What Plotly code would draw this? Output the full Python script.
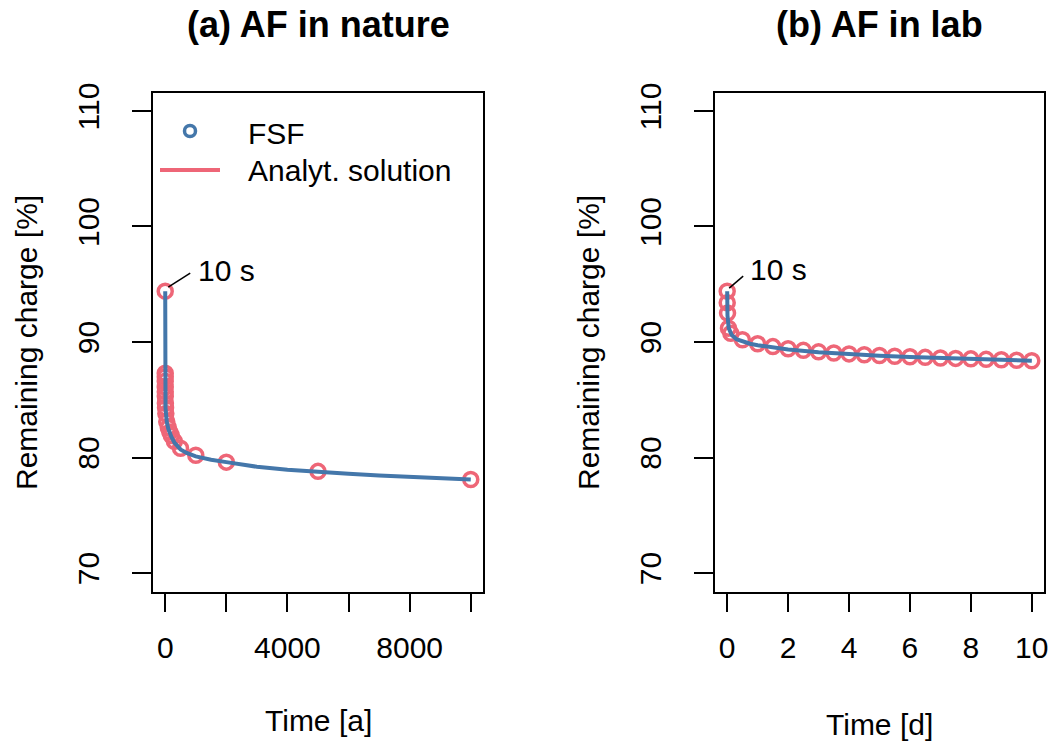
import plotly.graph_objects as go
from plotly.subplots import make_subplots

W, H = 1052, 745
RED = "#EE6677"
BLUE = "#4477AA"
FONT = "Liberation Sans, Arial, sans-serif"

# (a) AF in nature, time in years (first point = 10 s)
t_nat_fsf = [3.2e-7, 0.05, 0.1, 0.2, 0.5, 1, 2, 5, 10, 20, 50, 100, 150, 200, 300,
             500, 1000, 2000, 5000, 10000]
q_nat_fsf = [94.4, 87.3, 87.0, 86.6, 86.1, 85.7, 85.3, 84.7, 84.3, 83.8, 83.1, 82.6,
             82.2, 81.9, 81.4, 80.8, 80.2, 79.6, 78.8, 78.1]
t_nat_ana = [3.2e-7, 0.1, 1, 10, 50, 100, 200, 300, 500, 700, 1000, 1500, 2000, 3000,
             4000, 5000, 6000, 7000, 8000, 9000, 10000]
q_nat_ana = [94.4, 87.0, 85.7, 84.3, 83.1, 82.5, 81.8, 81.3, 80.7, 80.4, 80.1, 79.8,
             79.6, 79.2, 78.95, 78.75, 78.6, 78.45, 78.35, 78.25, 78.1]

# (b) AF in lab, time in days (first point = 10 s)
t_lab_fsf = [1.16e-4, 1.16e-3, 0.0116, 0.042, 0.12, 0.5, 1, 1.5, 2, 2.5, 3, 3.5, 4,
             4.5, 5, 5.5, 6, 6.5, 7, 7.5, 8, 8.5, 9, 9.5, 10]
q_lab_fsf = [94.4, 93.4, 92.5, 91.2, 90.75, 90.2, 89.85, 89.6, 89.42, 89.28, 89.15,
             89.05, 88.97, 88.9, 88.83, 88.77, 88.72, 88.67, 88.62, 88.58, 88.54,
             88.5, 88.46, 88.42, 88.38]
t_lab_ana = [1.16e-4, 0.01, 0.05, 0.15, 0.3, 0.5, 0.75, 1, 1.5, 2, 3, 4, 5, 6, 7, 8,
             9, 10]
q_lab_ana = [94.4, 92.3, 91.2, 90.6, 90.25, 90.05, 89.85, 89.72, 89.5, 89.35, 89.12,
             88.95, 88.82, 88.7, 88.6, 88.52, 88.44, 88.38]

y_ticks = [70, 80, 90, 100, 110]
x_ticks_nat = [0, 2000, 4000, 6000, 8000, 10000]
x_text_nat = ["0", "", "4000", "", "8000", ""]
x_ticks_lab = [0, 2, 4, 6, 8, 10]

fig = make_subplots(rows=1, cols=2, horizontal_spacing=0.1)

panels = [
    (1, t_nat_fsf, q_nat_fsf, t_nat_ana, q_nat_ana),
    (2, t_lab_fsf, q_lab_fsf, t_lab_ana, q_lab_ana),
]
for col, tf, qf, ta, qa in panels:
    fig.add_trace(go.Scatter(
        x=tf, y=qf, mode="markers", showlegend=False, hoverinfo="skip",
        marker=dict(symbol="circle-open", size=14, color=RED,
                    line=dict(width=3.5, color=RED)),
    ), row=1, col=col)
    fig.add_trace(go.Scatter(
        x=ta, y=qa, mode="lines", showlegend=False, hoverinfo="skip",
        line=dict(color=BLUE, width=4),
    ), row=1, col=col)


def px_x(p):
    return p / W


def px_y(p):
    return 1 - p / H


dom1 = [px_x(153), px_x(483)]
dom2 = [px_x(715), px_x(1044)]
ydom = [px_y(591.5), px_y(92.5)]

axis_common = dict(
    showline=True, mirror=True, linecolor="black", linewidth=1.5,
    ticks="outside", ticklen=19, tickwidth=1.5, tickcolor="black",
    showgrid=False, zeroline=False, automargin=False,
    tickfont=dict(size=30, color="black", family=FONT),
)
fig.update_xaxes(axis_common)
fig.update_yaxes(axis_common)
fig.update_xaxes(domain=dom1, range=[-400, 10400], tickvals=x_ticks_nat,
                 ticktext=x_text_nat, ticklabelstandoff=10, row=1, col=1)
fig.update_xaxes(domain=dom2, range=[-0.4, 10.4], tickvals=x_ticks_lab,
                 ticklabelstandoff=10, row=1, col=2)
fig.update_yaxes(domain=ydom, range=[68.4, 111.6], tickvals=y_ticks, tickangle=-90,
                 ticklabelstandoff=21)

ann = []
shapes = []
for xc, title, xlab, ylab in [(318, "<b>(a) AF in nature</b>", "Time [a]", 720),
                              (879.5, "<b>(b) AF in lab</b>", "Time [d]", 724)]:
    ann.append(dict(x=px_x(xc), y=px_y(25), xref="paper", yref="paper", text=title,
                    showarrow=False, font=dict(size=36), xanchor="center", yanchor="middle"))
    ann.append(dict(x=px_x(xc), y=px_y(ylab), xref="paper", yref="paper", text=xlab,
                    showarrow=False, font=dict(size=30), xanchor="center", yanchor="middle"))
for xl in [27, 589]:
    ann.append(dict(x=px_x(xl), y=px_y(343), xref="paper", yref="paper",
                    text="Remaining charge [%]", textangle=-90, showarrow=False,
                    font=dict(size=30), xanchor="center", yanchor="middle"))

# "10 s" pointers at the first point of each panel
for xr, yr, tf, qf, (x0, y0, x1, y1), xs, ys in [
    ("x", "y", t_nat_fsf, q_nat_fsf, (3, 4, 25, 18), 31, 21),
    ("x2", "y2", t_lab_fsf, q_lab_fsf, (2, 3, 16, 15), 21, 22),
]:
    shapes.append(dict(type="line", xref=xr, yref=yr, xsizemode="pixel", ysizemode="pixel",
                       xanchor=tf[0], yanchor=qf[0], x0=x0, x1=x1, y0=y0, y1=y1,
                       line=dict(color="black", width=1.5)))
    ann.append(dict(x=tf[0], y=qf[0], xref=xr, yref=yr, text="10 s", showarrow=False,
                    xanchor="left", yanchor="middle", xshift=xs, yshift=ys,
                    font=dict(size=30)))

# legend (drawn by hand, as in the original)
shapes.append(dict(type="circle", xref="paper", yref="paper",
                   x0=px_x(184.5), x1=px_x(195.5), y0=px_y(136.5), y1=px_y(125.5),
                   line=dict(color=BLUE, width=3.5)))
shapes.append(dict(type="line", xref="paper", yref="paper",
                   x0=px_x(160), x1=px_x(220), y0=px_y(170), y1=px_y(170),
                   line=dict(color=RED, width=4)))
ann.append(dict(x=px_x(246), y=px_y(133), xref="paper", yref="paper", text="FSF",
                showarrow=False, xanchor="left", yanchor="middle", font=dict(size=30)))
ann.append(dict(x=px_x(246), y=px_y(170), xref="paper", yref="paper",
                text="Analyt. solution", showarrow=False, xanchor="left",
                yanchor="middle", font=dict(size=30)))

fig.update_layout(
    width=W, height=H, margin=dict(l=0, r=0, t=0, b=0),
    plot_bgcolor="white", paper_bgcolor="white",
    font=dict(family=FONT, color="black", size=30),
    annotations=ann, shapes=shapes, showlegend=False, hovermode=False,
)

# remove the default page margin so the figure sits at the window corner
fig.write_html("out.html", config={"displayModeBar": False},
               post_script="document.body.style.margin = '0';")
